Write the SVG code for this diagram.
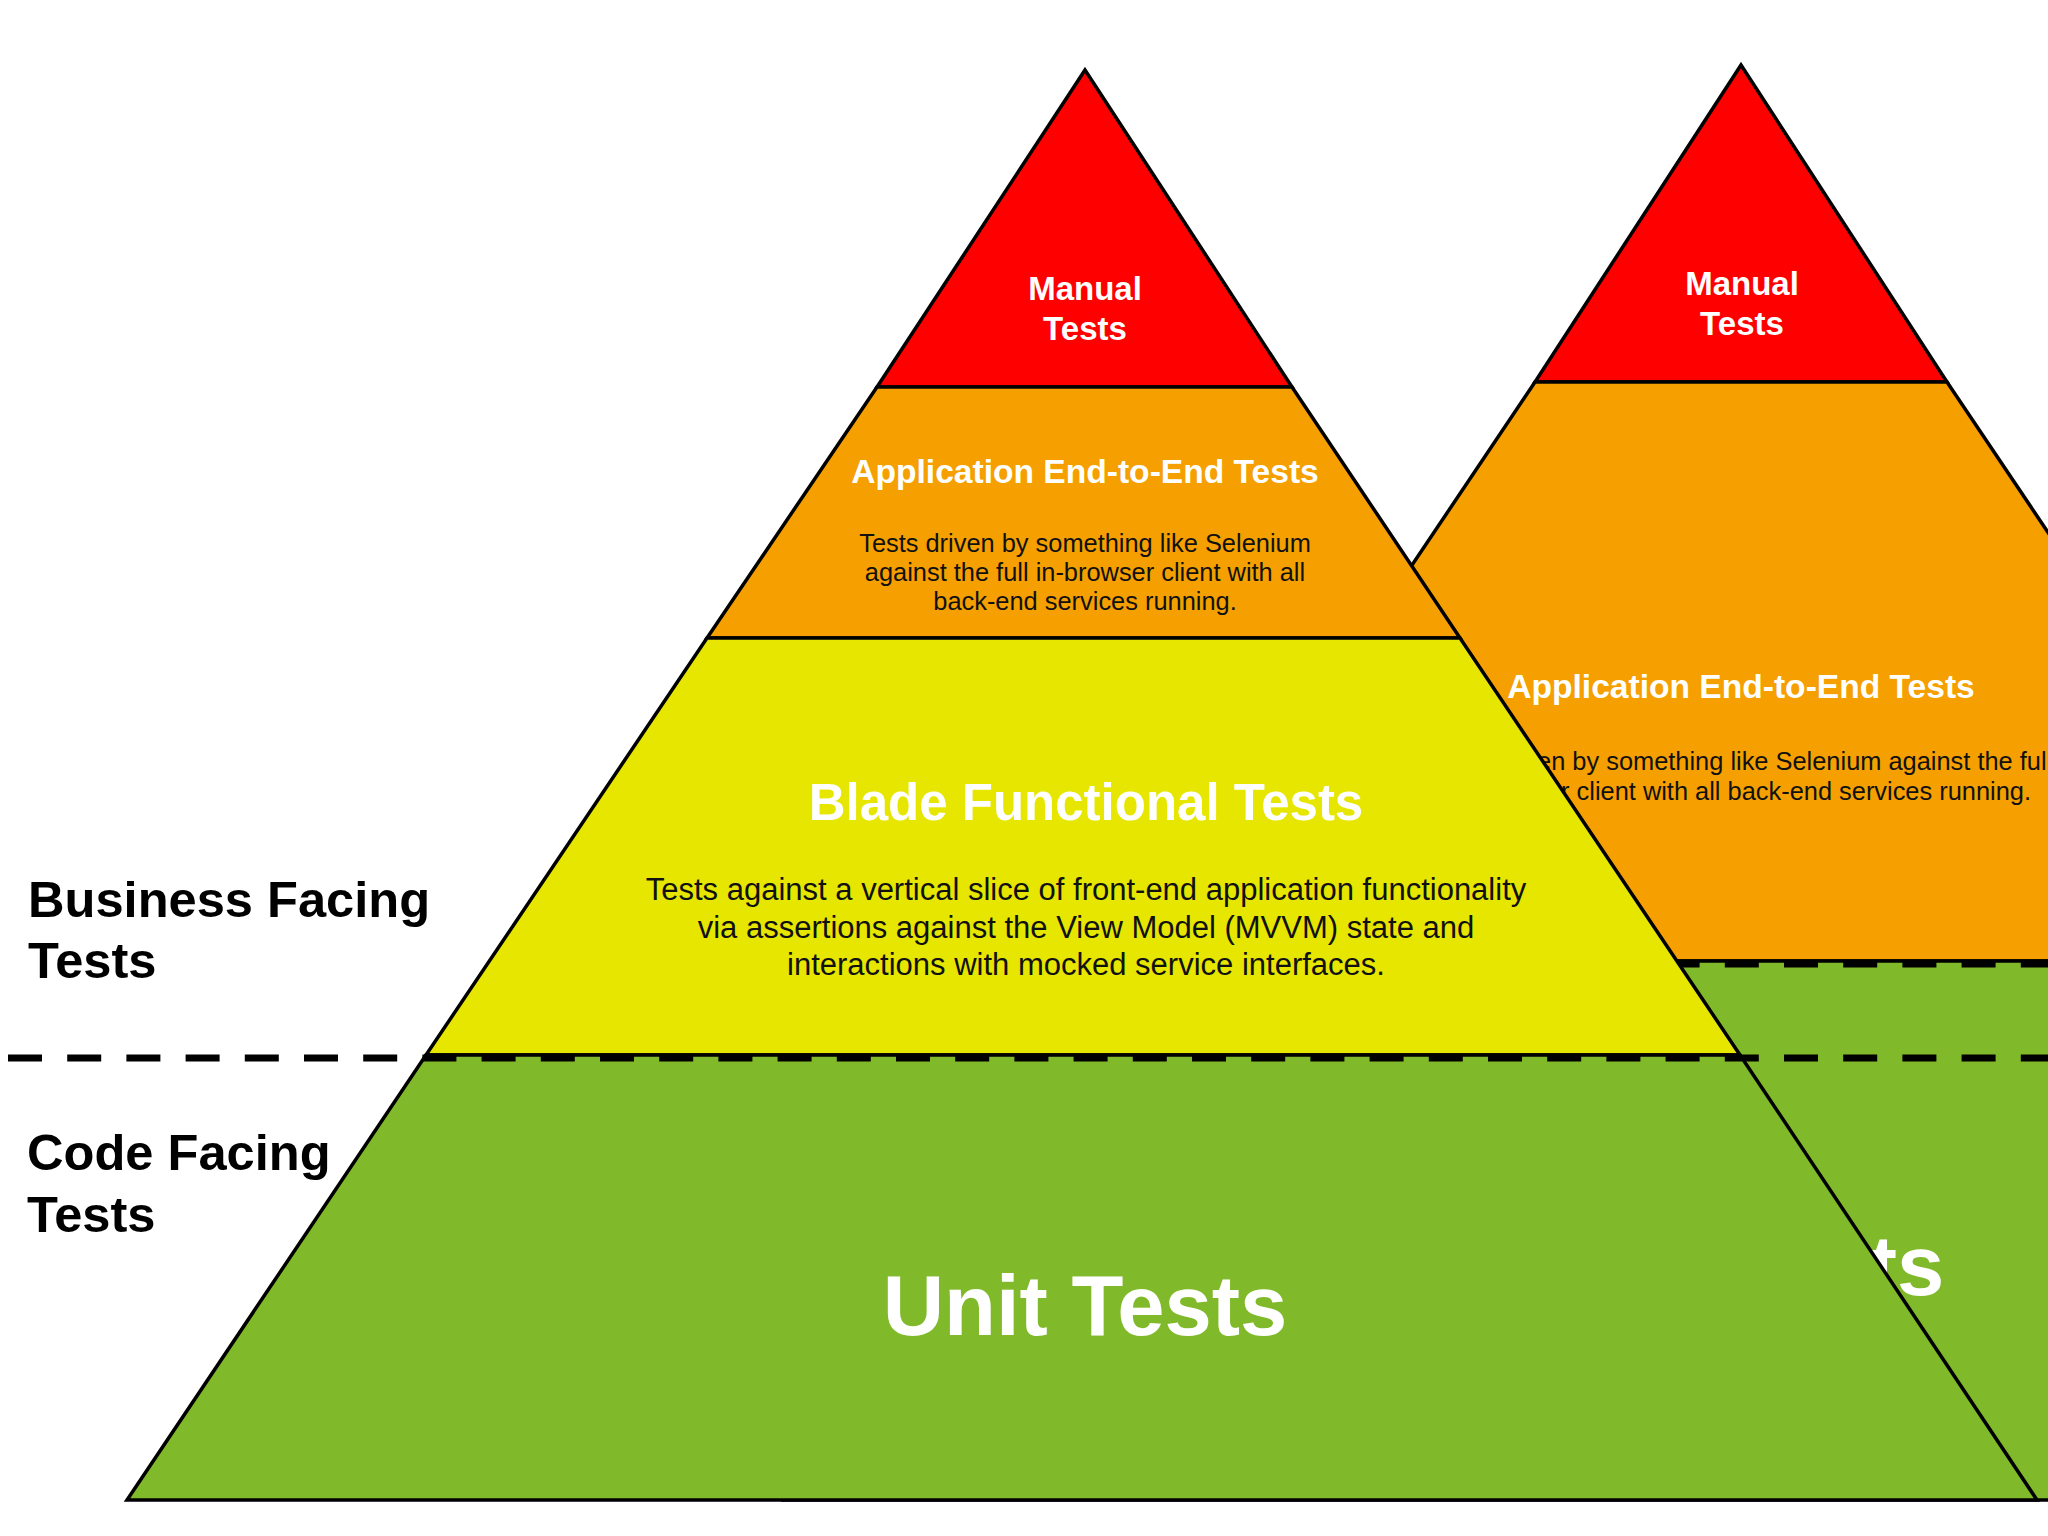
<svg xmlns="http://www.w3.org/2000/svg" width="2048" height="1536" viewBox="0 0 2048 1536">
<style>
  .lyr { stroke: #000; stroke-width: 3.5; stroke-linejoin: miter; }
  .red { fill: #ff0000; }
  .org { fill: #f5a000; }
  .yel { fill: #e6e600; }
  .grn { fill: #80b92a; }
  .t { font-family: "Liberation Sans", Arial, sans-serif; text-anchor: middle; }
  .wb { fill: #ffffff; font-weight: bold; }
  .body { fill: #111111; }
  .side { font-family: "Liberation Sans", Arial, sans-serif; font-weight: bold; font-size: 50.6px; fill: #000; }
  .dash { stroke: #000; stroke-width: 7; stroke-dasharray: 34 25.2; fill: none; }
</style>
<rect width="2048" height="1536" fill="#ffffff"/>

<!-- Background pyramid (right, partially hidden) -->
<g id="back-pyramid">
  <g id="back-manual">
    <polygon class="lyr red" points="1741,65 1947,382 1535,382"/>
    <text class="t wb" x="1742" y="295" font-size="33">Manual</text>
    <text class="t wb" x="1742" y="335" font-size="33">Tests</text>
  </g>
  <g id="back-e2e">
    <polygon class="lyr org" points="1535,382 1947,382 2336,961 1146,961"/>
    <text class="t wb" x="1741" y="698" font-size="33.6">Application End-to-End Tests</text>
    <text class="t body" x="1741" y="770" font-size="25.4">Tests driven by something like Selenium against the full</text>
    <text class="t body" x="1741" y="800" font-size="25.4">in-browser client with all back-end services running.</text>
  </g>
  <g id="back-unit">
    <polygon class="lyr grn" points="1146,961 2336,961 2698,1500 784,1500"/>
    <text class="t wb" x="1742" y="1295" font-size="85">Unit Tests</text>
  </g>
</g>
<g id="back-divider">
  <line class="dash" x1="1606.4" y1="964" x2="2048" y2="964" stroke-width="6"/>
</g>

<!-- Front pyramid -->
<g id="manual-tests">
  <polygon class="lyr red" points="1085,70 1292,387 877,387"/>
  <text class="t wb" x="1085" y="300" font-size="33">Manual</text>
  <text class="t wb" x="1085" y="340" font-size="33">Tests</text>
</g>
<g id="e2e-tests">
  <polygon class="lyr org" points="877,387 1292,387 1460,638 707,638"/>
  <text class="t wb" x="1085" y="483" font-size="33.6">Application End-to-End Tests</text>
  <text class="t body" x="1085" y="552" font-size="25.4">Tests driven by something like Selenium</text>
  <text class="t body" x="1085" y="581" font-size="25.4">against the full in-browser client with all</text>
  <text class="t body" x="1085" y="610" font-size="25.4">back-end services running.</text>
</g>
<g id="blade-tests">
  <polygon class="lyr yel" points="707,638 1460,638 1740,1055 426,1055"/>
  <text class="t wb" x="1086" y="820" font-size="51">Blade Functional Tests</text>
  <text class="t body" x="1086" y="900" font-size="31">Tests against a vertical slice of front-end application functionality</text>
  <text class="t body" x="1086" y="937.5" font-size="31">via assertions against the View Model (MVVM) state and</text>
  <text class="t body" x="1086" y="975" font-size="31">interactions with mocked service interfaces.</text>
</g>
<g id="unit-tests">
  <polygon class="lyr grn" points="426,1055 1740,1055 2037,1500 127,1500"/>
  <text class="t wb" x="1085" y="1335" font-size="85">Unit Tests</text>
</g>

<g id="business-label">
  <text class="side" x="28" y="917">Business Facing</text>
  <text class="side" x="28" y="978">Tests</text>
</g>
<g id="code-label">
  <text class="side" x="27" y="1170">Code Facing</text>
  <text class="side" x="27" y="1232">Tests</text>
</g>

<g id="connectors">
  <line class="dash" x1="8" y1="1058" x2="2048" y2="1058"/>
</g>
</svg>
